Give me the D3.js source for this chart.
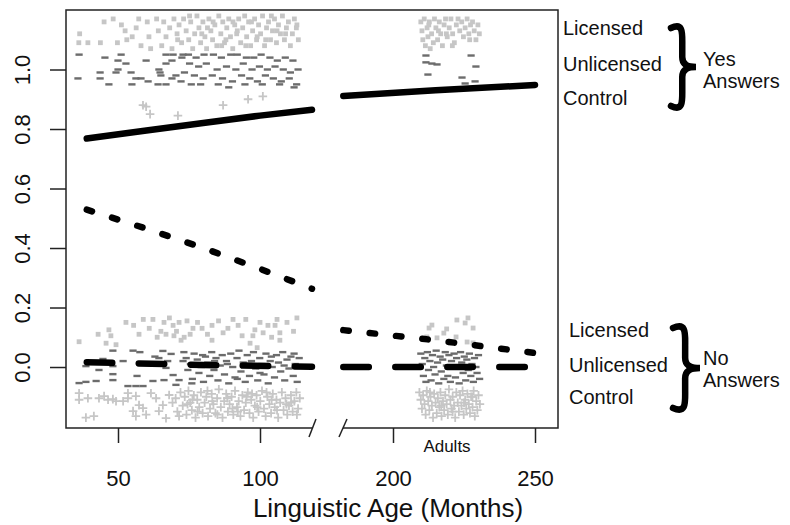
<!DOCTYPE html>
<html>
<head>
<meta charset="utf-8">
<script src="https://cdn.jsdelivr.net/npm/d3@7"></script>
<style>
  body { margin: 0; background: #fff; }
  text { font-family: "Liberation Sans", Arial, Helvetica, sans-serif; fill: #111; }
</style>
</head>
<body>
<svg id="chart" width="790" height="525"></svg>
<script>
// ---- data (age in months, proportion "yes"; points are jittered raw answers) ----
const yesLicensedChild = [[36.5,1.12],[36.2,1.09],[39.4,1.09],[43.8,1.09],[45.1,1.16],[48.3,1.17],[49.8,1.09],[51.2,1.15],[52.5,1.13],[53.1,1.10],[55.0,1.11],[56.4,1.14],[57.3,1.17],[58.1,1.08],[60.3,1.16],[60.9,1.11],[61.5,1.07],[63.6,1.17],[64.2,1.13],[65.4,1.08],[66.1,1.16],[66.9,1.11],[68.2,1.14],[69.0,1.07],[69.7,1.17],[70.8,1.12],[71.5,1.15],[72.4,1.09],[73.1,1.17],[74.0,1.13],[74.9,1.10],[75.6,1.16],[76.3,1.07],[77.0,1.12],[77.8,1.18],[78.5,1.14],[79.1,1.09],[79.9,1.16],[80.6,1.11],[81.2,1.07],[82.0,1.17],[82.7,1.13],[83.3,1.10],[84.1,1.15],[84.8,1.08],[85.5,1.18],[86.2,1.12],[86.9,1.16],[87.5,1.09],[88.3,1.14],[89.0,1.17],[89.6,1.11],[90.4,1.07],[91.1,1.15],[91.8,1.12],[92.5,1.17],[93.2,1.09],[93.9,1.14],[94.6,1.18],[95.3,1.11],[96.0,1.16],[96.7,1.08],[97.4,1.13],[98.1,1.17],[98.8,1.10],[99.5,1.15],[100.2,1.12],[100.9,1.18],[101.6,1.08],[102.3,1.14],[103.0,1.16],[103.7,1.10],[104.4,1.13],[105.1,1.17],[105.8,1.09],[106.5,1.15],[107.2,1.12],[107.9,1.18],[108.6,1.10],[109.3,1.14],[110.0,1.16],[110.7,1.08],[111.4,1.12],[112.1,1.17],[112.8,1.14],[113.5,1.10],[88.0,1.10],[92.0,1.13],[97.0,1.16],[102.0,1.10],[106.0,1.13],[83.5,1.16],[79.5,1.12],[75.2,1.18],[71.0,1.10],[95.0,1.08],[99.0,1.11],[104.0,1.18],[109.0,1.12],[113.0,1.15],[86.5,1.08],[90.5,1.16],[81.5,1.14]];

const yesUnlicensedChild = [[36.3,1.05],[35.9,0.97],[45.4,1.04],[43.7,0.99],[43.7,0.97],[46.8,0.95],[51.1,1.05],[50.0,1.03],[52.8,1.02],[49.3,0.99],[50.0,1.00],[54.6,0.99],[56.3,0.97],[54.9,0.95],[59.9,1.03],[58.1,0.97],[60.6,0.96],[64.4,1.00],[64.8,0.99],[65.1,0.98],[64.1,0.95],[66.9,1.05],[66.9,1.02],[66.9,0.95],[69.4,1.05],[69.0,1.03],[70.4,0.98],[69.0,0.97],[72.2,0.96],[72.9,1.05],
  [72.5,1.04],[74.8,1.05],[77.5,1.04],[80.3,1.05],[83.6,1.05],[86.4,1.04],[89.7,1.05],[92.0,1.05],[95.2,1.04],[97.8,1.04],[100.4,1.05],[103.5,1.04],[106.1,1.03],[108.9,1.04],[111.6,1.03],
  [75.2,1.02],[78.4,1.01],[81.1,1.02],[84.9,1.00],[88.2,1.01],[91.5,1.00],[94.1,1.02],[97.2,1.00],[99.8,1.01],[102.6,1.00],[105.3,1.01],[108.2,1.00],[110.7,0.99],[113.4,1.00],
  [73.4,0.99],[76.9,0.98],[80.0,0.97],[83.2,0.98],[86.8,0.97],[90.3,0.96],[93.5,0.98],[96.4,0.97],[99.1,0.96],[101.9,0.98],[104.7,0.97],[107.5,0.96],[110.3,0.97],[112.9,0.95],
  [75.8,0.95],[79.1,0.95],[85.3,0.95],[89.0,0.94],[94.7,0.95],[100.8,0.95],[106.9,0.95],[112.0,0.94]];

const yesControlChild = [[58.8,0.88],[59.9,0.875],[61.3,0.85],[71.1,0.845],[87.0,0.88],[95.8,0.90],[101.0,0.91]];

const noLicensedChild = [[52.8,0.15],[43.0,0.11],[46.8,0.125],[47.5,0.105],[36.3,0.085],[45.8,0.08],[49.3,0.075],[57.4,0.11],[62.3,0.16],[65.1,0.12],[66.2,0.15],[66.9,0.11],[69.4,0.14],[69.7,0.105],[72.2,0.09],[71.5,0.15],[74.3,0.155],[76.4,0.13],[75.4,0.11],[79.6,0.13],[83.1,0.14],[83.1,0.09],[87.0,0.115],[90.5,0.16],[92.3,0.14],[93.7,0.105],[97.5,0.105],[100.0,0.15],[101.1,0.115],[102.8,0.14],[105.3,0.14],[106.0,0.16],[107.0,0.115],[107.0,0.09],[99.0,0.065],[96.5,0.08],
  [55.5,0.14],[58.9,0.16],[61.0,0.13],[63.8,0.10],[68.1,0.165],[70.6,0.12],[73.3,0.10],[78.0,0.15],[81.5,0.11],[85.4,0.155],[88.7,0.13],[95.0,0.16],[98.2,0.125],[104.1,0.10],[109.5,0.15],[111.8,0.12],[113.0,0.165]];

const noUnlicensedChild = [[36.3,-0.054],[38.7,0.003],[38.7,-0.05],[42.3,-0.047],[43.3,-0.01],[44.7,0.027],[48.2,0.055],[48.2,0.003],[48.2,-0.024],[48.2,-0.044],[51.8,0.02],[53.5,-0.064],[55.3,0.055],[56.3,-0.064],[56.7,-0.03],[57.7,0.05],[58.8,-0.064],[60.5,0.01],[62.3,-0.047],[63.0,0.035],[64.4,0.03],[65.8,0.054],[66.2,-0.044],[66.9,-0.003],[67.5,0.02],[68.7,0.044],[69.4,-0.027],[70.4,-0.06],[71.5,-0.044],[72.9,0.02],
  [73.2,0.05],[74.0,0.03],[74.6,-0.01],[75.5,0.01],[76.2,-0.04],[76.8,0.045],[77.9,0.025],[78.5,-0.02],[79.3,0.0],[80.1,-0.05],[80.8,0.035],[81.6,0.015],[82.3,-0.03],[83.0,0.05],[83.8,-0.01],[84.5,0.03],[85.2,-0.045],[86.0,0.005],[86.7,0.04],[87.5,-0.025],[88.2,0.02],[89.0,-0.055],[89.7,0.045],[90.4,0.0],[91.2,-0.035],[91.9,0.03],[92.6,0.055],[93.3,-0.015],[94.1,0.015],[94.8,-0.05],[95.5,0.04],[96.3,-0.03],[97.0,0.02],[97.7,0.05],[98.5,-0.005],[99.2,-0.045],[99.9,0.03],[100.7,0.01],[101.4,-0.025],[102.1,0.045],[102.9,-0.055],[103.6,0.02],[104.3,0.0],[105.1,-0.035],[105.8,0.04],[106.5,0.015],[107.3,-0.015],[108.0,0.05],[108.7,-0.045],[109.5,0.025],[110.2,-0.005],[110.9,0.035],[111.7,-0.03],[112.4,0.01],[113.1,-0.05],[113.8,0.03],[88.5,0.01],[92.0,-0.04],[96.0,0.01],[100.0,-0.02],[104.0,0.035],[108.5,0.005],[112.0,0.045],[84.0,0.02],[79.8,0.04],[76.0,-0.055]];

const noControlChild = [[36.3,-0.088],[36.3,-0.11],[38.7,-0.17],[39.4,-0.105],[41.5,-0.165],[43.3,-0.105],[45.1,-0.098],[46.5,-0.11],[48.2,-0.108],[49.3,-0.115],[51.8,-0.115],[53.5,-0.088],[53.5,-0.105],[55.3,-0.148],[56.3,-0.098],[56.3,-0.165],[57.4,-0.128],[58.8,-0.138],[59.9,-0.16],[61.6,-0.088],[63.4,-0.105],[64.4,-0.148],[65.8,-0.128],[66.9,-0.172],[68.0,-0.094],[69.2,-0.12],[70.3,-0.105],[70.9,-0.15],[71.5,-0.165],[72.0,-0.085],
  [72.8,-0.13],[73.5,-0.10],[74.1,-0.16],[74.8,-0.08],[75.4,-0.12],[76.0,-0.145],[76.7,-0.095],[77.3,-0.17],[77.9,-0.11],[78.6,-0.135],[79.2,-0.085],[79.8,-0.155],[80.5,-0.12],[81.1,-0.10],[81.7,-0.165],[82.4,-0.14],[83.0,-0.09],[83.6,-0.125],[84.3,-0.155],[84.9,-0.105],[85.5,-0.075],[86.2,-0.135],[86.8,-0.17],[87.4,-0.115],[88.1,-0.09],[88.7,-0.15],[89.3,-0.125],[90.0,-0.10],[90.6,-0.16],[91.2,-0.08],[91.9,-0.135],[92.5,-0.115],[93.1,-0.165],[93.8,-0.095],[94.4,-0.145],[95.0,-0.12],[95.7,-0.085],[96.3,-0.155],[96.9,-0.11],[97.6,-0.17],[98.2,-0.13],[98.8,-0.095],[99.5,-0.15],[100.1,-0.115],[100.7,-0.08],[101.4,-0.14],[102.0,-0.165],[102.6,-0.10],[103.3,-0.125],[103.9,-0.155],[104.5,-0.09],[105.2,-0.135],[105.8,-0.11],[106.4,-0.17],[107.1,-0.12],[107.7,-0.085],[108.3,-0.145],[109.0,-0.105],[109.6,-0.16],[110.2,-0.13],[110.9,-0.095],[111.5,-0.15],[112.1,-0.115],[112.8,-0.085],[113.4,-0.14],[114.0,-0.105],
  [74.5,-0.125],[78.0,-0.15],[81.5,-0.08],[85.0,-0.16],[88.5,-0.105],[92.2,-0.15],[95.3,-0.10],[99.0,-0.135],[102.3,-0.085],[106.0,-0.145],[109.3,-0.125],[113.0,-0.16],[76.2,-0.11],[83.2,-0.115],[90.3,-0.14],[97.2,-0.09],[104.1,-0.11],[111.0,-0.12]];

const yesLicensedAdult = [[209.8,1.16],[210.2,1.13],[210.5,1.10],[211.0,1.17],[211.4,1.08],[212.0,1.14],[212.3,1.11],[212.8,1.16],[213.1,1.07],[213.6,1.12],[214.2,1.09],[214.6,1.17],[215.1,1.14],[215.7,1.10],[216.3,1.16],[216.8,1.12],[217.4,1.08],[218.0,1.15],[218.5,1.17],[219.1,1.11],[219.8,1.14],[220.4,1.17],[221.0,1.12],[221.6,1.09],[222.3,1.15],[222.9,1.17],[223.5,1.13],[224.2,1.16],[224.8,1.11],[225.4,1.14],[226.1,1.17],[226.7,1.12],[227.3,1.15],[228.0,1.16],[228.6,1.13],[229.2,1.10],[229.9,1.15],[230.4,1.12],[227.0,1.10],[220.9,1.08],[216.0,1.13],[212.6,1.15],[218.8,1.12]];

const yesUnlicensedAdult = [[211.6,1.047],[211.6,1.024],[213.7,1.02],[215.5,1.017],[212.3,0.983],[227.5,1.047],[229.2,1.01],[224.3,0.973],[225.4,0.953],[228.9,0.96]];

const noLicensedAdult = [[213.7,0.141],[212.7,0.131],[222.5,0.158],[226.4,0.165],[228.2,0.131],[225.4,0.148],[217.9,0.114],[215.5,0.098],[222.2,0.101],[226.1,0.084],[218.9,0.128],[211.9,0.101],[228.2,0.081]];

const noUnlicensedAdult = [[209.8,0.045],[210.3,0.01],[210.7,-0.03],[211.2,0.03],[211.6,-0.05],[212.1,0.05],[212.5,-0.01],[213.0,0.02],[213.4,-0.045],[213.9,0.04],[214.3,0.0],[214.8,-0.025],[215.2,0.055],[215.7,0.015],[216.1,-0.055],[216.6,0.035],[217.0,-0.015],[217.5,0.025],[217.9,-0.04],[218.4,0.05],[218.8,0.005],[219.3,-0.03],[219.7,0.04],[220.2,-0.05],[220.6,0.02],[221.1,-0.005],[221.5,0.045],[222.0,-0.035],[222.4,0.03],[222.9,0.0],[223.3,-0.055],[223.8,0.05],[224.2,0.015],[224.7,-0.02],[225.1,0.035],[225.6,-0.045],[226.0,0.025],[226.5,-0.01],[226.9,0.045],[227.4,-0.03],[227.8,0.01],[228.3,-0.05],[228.7,0.03],[229.2,0.0],[229.6,-0.02],[230.1,0.04],[230.5,-0.04]];

const noControlAdult = [[209.3,-0.085],[209.8,-0.11],[210.2,-0.14],[210.6,-0.095],[211.1,-0.125],[211.5,-0.16],[211.9,-0.08],[212.4,-0.115],[212.8,-0.145],[213.2,-0.10],[213.7,-0.13],[214.1,-0.17],[214.5,-0.09],[215.0,-0.12],[215.4,-0.155],[215.8,-0.105],[216.3,-0.135],[216.7,-0.085],[217.1,-0.165],[217.6,-0.115],[218.0,-0.145],[218.4,-0.095],[218.9,-0.125],[219.3,-0.16],[219.7,-0.075],[220.2,-0.11],[220.6,-0.14],[221.0,-0.10],[221.5,-0.13],[221.9,-0.17],[222.3,-0.085],[222.8,-0.12],[223.2,-0.15],[223.6,-0.095],[224.1,-0.13],[224.5,-0.08],[224.9,-0.16],[225.4,-0.11],[225.8,-0.14],[226.2,-0.09],[226.7,-0.125],[227.1,-0.155],[227.5,-0.10],[228.0,-0.135],[228.4,-0.08],[228.8,-0.165],[229.3,-0.115],[229.7,-0.145],[230.1,-0.095],[230.6,-0.125],[213.0,-0.085],[217.0,-0.13],[221.0,-0.15],[225.0,-0.12],[228.0,-0.10]];

// fitted curves
const fitUnlicensedChild = [[39,0.768],[60,0.795],[80,0.82],[100,0.845],[118.3,0.865]];
const fitUnlicensedAdult = [[182.5,0.911],[215,0.93],[250,0.948]];
const fitLicensedChild = [[39,0.529],[60,0.465],[80,0.40],[100,0.33],[118.3,0.263]];
const fitLicensedAdult = [[182.5,0.124],[215,0.09],[250,0.047]];
const fitControlChild = [[39,0.016],[80,0.007],[118.3,0.001]];
const fitControlAdult = [[182.5,0.0],[250,0.0]];

const yTicks = [0, 0.2, 0.4, 0.6, 0.8, 1.0];
const childTicks = [50, 100];
const adultTicks = [200, 250];
const condLabels = ["Licensed", "Unlicensed", "Control"];

// ---- layout ----
const svg = d3.select("#chart");
const plotL = 66, plotR = 558, plotT = 10, plotB = 428;
const breakL = 313, breakR = 343;

const y = d3.scaleLinear().domain([-0.205, 1.2]).range([plotB, plotT]);
const xChild = d3.scaleLinear().domain([50, 100]).range([118, 260]);
const xAdult = d3.scaleLinear().domain([200, 250]).range([393, 535]);
const xPos = age => age < 150 ? xChild(age) : xAdult(age);

const light = "#c6c6c6";
const dark = "#6c6c6c";

// ---- points ----
function squares(data) {
    svg.append("g").selectAll("rect").data(data).enter().append("rect")
        .attr("x", d => xPos(d[0]) - 2.4)
        .attr("y", d => y(d[1]) - 2.4)
        .attr("width", 4.8).attr("height", 4.8)
        .attr("fill", light);
}
function dashes(data) {
    svg.append("g").selectAll("rect").data(data).enter().append("rect")
        .attr("x", d => xPos(d[0]) - 3.6)
        .attr("y", d => y(d[1]) - 1.2)
        .attr("width", 7.2).attr("height", 2.4)
        .attr("fill", dark);
}
function pluses(data) {
    svg.append("g").selectAll("path").data(data).enter().append("path")
        .attr("d", d => {
            const cx = xPos(d[0]), cy = y(d[1]);
            return `M${cx - 4.3},${cy}H${cx + 4.3}M${cx},${cy - 4.3}V${cy + 4.3}`;
        })
        .attr("stroke", light).attr("stroke-width", 1.8).attr("fill", "none");
}

squares(yesLicensedChild);
squares(yesLicensedAdult);
squares(noLicensedChild);
squares(noLicensedAdult);
pluses(yesControlChild);
pluses(noControlChild);
pluses(noControlAdult);
dashes(yesUnlicensedChild);
dashes(yesUnlicensedAdult);
dashes(noUnlicensedChild);
dashes(noUnlicensedAdult);

// ---- fitted lines ----
const line = d3.line().x(d => xPos(d[0])).y(d => y(d[1]));
function fit(data, dash) {
    svg.append("path").datum(data)
        .attr("d", line)
        .attr("fill", "none")
        .attr("stroke", "#000")
        .attr("stroke-width", 6.5)
        .attr("stroke-linecap", "round")
        .attr("stroke-dasharray", dash);
}
fit(fitUnlicensedChild, null);
fit(fitUnlicensedAdult, null);
fit(fitLicensedChild, "5.5,21");
fit(fitLicensedAdult, "5.5,21");
fit(fitControlChild, "25.5,26.5");
fit(fitControlAdult, "25.5,26.5");

// ---- frame with axis break ----
const frame = svg.append("g").attr("stroke", "#222").attr("stroke-width", 1.5).attr("fill", "none");
frame.append("path").attr("d", `M${breakL},${plotB}H${plotL}V${plotT}H${plotR}V${plotB}H${breakR}`);
frame.append("line").attr("x1", breakL - 4).attr("y1", plotB + 9).attr("x2", breakL + 3).attr("y2", plotB - 9);
frame.append("line").attr("x1", breakR - 4).attr("y1", plotB + 9).attr("x2", breakR + 4).attr("y2", plotB - 9);

// ---- axes ----
function styleAxis(g) {
    g.select(".domain").remove();
    g.selectAll(".tick line").attr("stroke", "#222").attr("stroke-width", 1.5);
    g.selectAll("text").style("font-size", "22px").attr("fill", "#111");
}
svg.append("g").attr("transform", `translate(0,${plotB})`)
    .call(d3.axisBottom(xChild).tickValues(childTicks).tickSize(15).tickPadding(27))
    .call(styleAxis);
svg.append("g").attr("transform", `translate(0,${plotB})`)
    .call(d3.axisBottom(xAdult).tickValues(adultTicks).tickSize(15).tickPadding(27))
    .call(styleAxis);

const yAxis = svg.append("g").attr("transform", `translate(${plotL},0)`)
    .call(d3.axisLeft(y).tickValues(yTicks).tickSize(16).tickFormat(d3.format(".1f")))
    .call(styleAxis);
yAxis.selectAll(".tick text")
    .attr("x", null).attr("dy", null)
    .attr("text-anchor", "middle")
    .attr("transform", "translate(-36,0) rotate(-90)");

svg.append("text").attr("x", 388).attr("y", 517)
    .attr("text-anchor", "middle").style("font-size", "26px")
    .text("Linguistic Age (Months)");
svg.append("text").attr("x", 447).attr("y", 452)
    .attr("text-anchor", "middle").style("font-size", "17px")
    .text("Adults");

// ---- right-hand key ----
function brace(x0, y0, y1, w) {
    const h = y1 - y0, ym = (y0 + y1) / 2, xm = x0 + w * 0.45;
    const p = d3.path();
    p.moveTo(x0, y0 + 3);
    p.bezierCurveTo(x0 + w * 0.5, y0 - 3, xm, y0 + h * 0.1, xm, y0 + h * 0.24);
    p.lineTo(xm, ym - h * 0.12);
    p.bezierCurveTo(xm, ym - h * 0.02, x0 + w * 0.7, ym, x0 + w, ym);
    p.bezierCurveTo(x0 + w * 0.7, ym, xm, ym + h * 0.02, xm, ym + h * 0.12);
    p.lineTo(xm, y1 - h * 0.24);
    p.bezierCurveTo(xm, y1 - h * 0.1, x0 + w * 0.5, y1 + 3, x0, y1 - 3);
    svg.append("path").attr("d", p.toString())
        .attr("fill", "none").attr("stroke", "#000")
        .attr("stroke-width", 6.5).attr("stroke-linecap", "round");
}

const keyGroups = [
    { x: 563, base: [35, 71, 105], answer: "Yes", ab: [66, 88], brace: [671, 25, 109, 25] },
    { x: 569, base: [337, 372, 404], answer: "No", ab: [365, 387], brace: [673, 325, 411, 27] }
];
keyGroups.forEach(k => {
    condLabels.forEach((c, i) => {
        svg.append("text").attr("x", k.x).attr("y", k.base[i])
            .style("font-size", "20px").text(c);
    });
    svg.append("text").attr("x", 703).attr("y", k.ab[0]).style("font-size", "20px").text(k.answer);
    svg.append("text").attr("x", 703).attr("y", k.ab[1]).style("font-size", "20px").text("Answers");
    brace(k.brace[0], k.brace[1], k.brace[2], k.brace[3]);
});
</script>
</body>
</html>
